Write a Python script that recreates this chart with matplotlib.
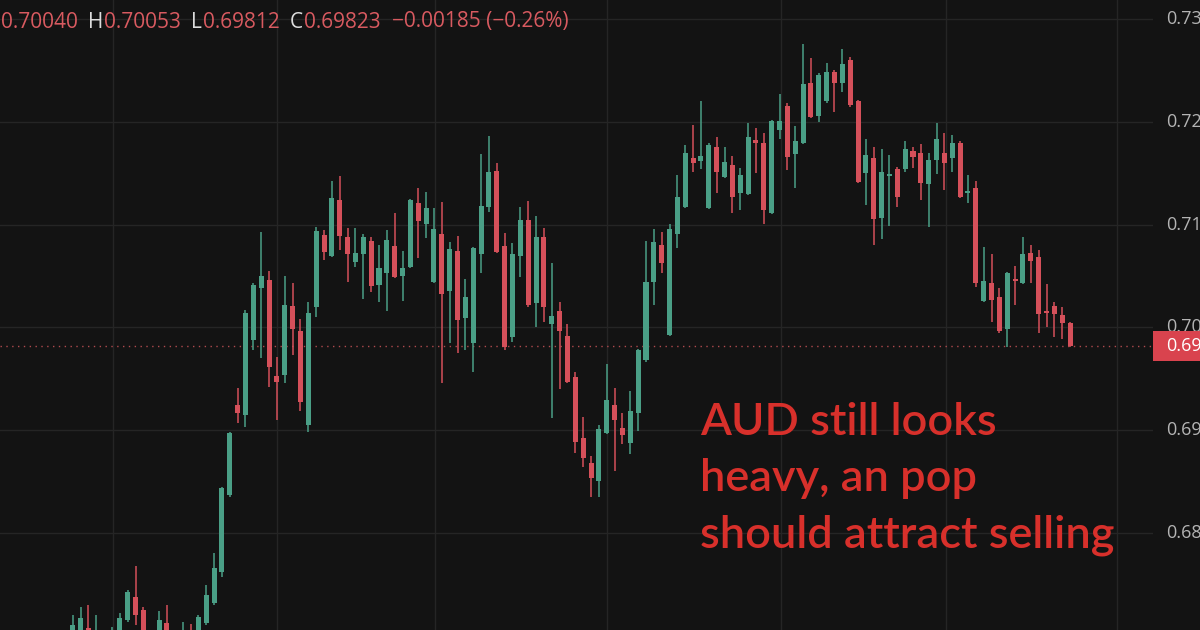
import numpy as np
import matplotlib
matplotlib.use("Agg")
import matplotlib.pyplot as plt
from matplotlib.patches import Rectangle

# ---------------- data ----------------
opens = [0.6696, 0.6701, 0.6707, 0.6691, 0.6696, 0.6691, 0.6701, 0.6715, 0.6738, 0.6725,
         0.6701, 0.6696, 0.6712, 0.6696, 0.6691, 0.6705, 0.6701, 0.6712, 0.6732, 0.6762,
         0.6837, 0.6924, 0.6915, 0.6988, 0.7038, 0.7046, 0.6953, 0.6954, 0.7021, 0.6996,
         0.6905, 0.7020, 0.7090, 0.7069, 0.7124, 0.7088, 0.7064, 0.7071, 0.7084, 0.7041,
         0.7053, 0.7079, 0.7050, 0.7059, 0.7121, 0.7101, 0.7044, 0.7091, 0.7035, 0.7074,
         0.7009, 0.6985, 0.7071, 0.7117, 0.7152, 0.7079, 0.6991, 0.7069, 0.7104, 0.7024,
         0.7088, 0.7003, 0.7016, 0.6992, 0.6952, 0.6892, 0.6868, 0.6850, 0.6897, 0.6924,
         0.6902, 0.6887, 0.6917, 0.6968, 0.7044, 0.7080, 0.6993, 0.7091, 0.7117, 0.7165,
         0.7162, 0.7116, 0.7175, 0.7146, 0.7158, 0.7131, 0.7130, 0.7182, 0.7179, 0.7111,
         0.7192, 0.7215, 0.7169, 0.7179, 0.7238, 0.7206, 0.7220, 0.7248, 0.7238, 0.7260,
         0.7220, 0.7150, 0.7165, 0.7106, 0.7147, 0.7154, 0.7154, 0.7172, 0.7170, 0.7139,
         0.7163, 0.7170, 0.7165, 0.7179, 0.7131, 0.7136, 0.7026, 0.7043, 0.7030, 0.6998,
         0.7047, 0.7043, 0.7072, 0.7068, 0.7016, 0.7021, 0.7012, 0.70040]
highs = [0.6720, 0.6728, 0.6730, 0.6720, 0.6704, 0.6708, 0.6722, 0.6744, 0.6768, 0.6728,
         0.6704, 0.6724, 0.6730, 0.6701, 0.6713, 0.6711, 0.6720, 0.6749, 0.6780, 0.6845,
         0.6898, 0.6941, 0.7017, 0.7043, 0.7093, 0.7055, 0.6971, 0.7050, 0.7043, 0.7008,
         0.7025, 0.7098, 0.7095, 0.7142, 0.7147, 0.7097, 0.7097, 0.7091, 0.7088, 0.7080,
         0.7095, 0.7111, 0.7074, 0.7125, 0.7136, 0.7132, 0.7116, 0.7122, 0.7083, 0.7089,
         0.7047, 0.7078, 0.7169, 0.7186, 0.7160, 0.7092, 0.7082, 0.7117, 0.7123, 0.7108,
         0.7097, 0.7063, 0.7025, 0.7003, 0.6957, 0.6913, 0.6875, 0.6905, 0.6964, 0.6941,
         0.6917, 0.6938, 0.6979, 0.7084, 0.7096, 0.7093, 0.7101, 0.7148, 0.7177, 0.7197,
         0.7220, 0.7179, 0.7185, 0.7175, 0.7167, 0.7155, 0.7199, 0.7194, 0.7189, 0.7202,
         0.7227, 0.7218, 0.7196, 0.7276, 0.7262, 0.7247, 0.7257, 0.7250, 0.7271, 0.7263,
         0.7221, 0.7183, 0.7175, 0.7174, 0.7168, 0.7156, 0.7181, 0.7175, 0.7178, 0.7170,
         0.7199, 0.7189, 0.7187, 0.7181, 0.7148, 0.7142, 0.7078, 0.7071, 0.7038, 0.7054,
         0.7060, 0.7088, 0.7080, 0.7075, 0.7042, 0.7025, 0.7020, 0.70053]
lows = [0.6688, 0.6696, 0.6686, 0.6686, 0.6681, 0.6684, 0.6696, 0.6713, 0.6710, 0.6696,
        0.6686, 0.6691, 0.6691, 0.6684, 0.6686, 0.6686, 0.6696, 0.6710, 0.6730, 0.6757,
        0.6835, 0.6907, 0.6903, 0.6978, 0.6970, 0.6942, 0.6910, 0.6946, 0.6973, 0.6919,
        0.6898, 0.7010, 0.7066, 0.7068, 0.7075, 0.7044, 0.7059, 0.7028, 0.7034, 0.7025,
        0.7016, 0.7048, 0.7026, 0.7058, 0.7067, 0.7087, 0.7043, 0.6946, 0.6985, 0.6975,
        0.6978, 0.6957, 0.7053, 0.7112, 0.7072, 0.6978, 0.6986, 0.7049, 0.7020, 0.7000,
        0.7005, 0.6912, 0.6940, 0.6946, 0.6878, 0.6864, 0.6835, 0.6835, 0.6896, 0.6860,
        0.6886, 0.6877, 0.6899, 0.6966, 0.7022, 0.7053, 0.6992, 0.7077, 0.7116, 0.7151,
        0.7154, 0.7115, 0.7131, 0.7145, 0.7111, 0.7114, 0.7129, 0.7150, 0.7101, 0.7110,
        0.7183, 0.7153, 0.7136, 0.7178, 0.7204, 0.7200, 0.7218, 0.7210, 0.7229, 0.7214,
        0.7140, 0.7119, 0.7080, 0.7086, 0.7099, 0.7117, 0.7151, 0.7155, 0.7124, 0.7098,
        0.7149, 0.7134, 0.7151, 0.7126, 0.7121, 0.7039, 0.7025, 0.7005, 0.6994, 0.6981,
        0.7022, 0.7042, 0.7043, 0.6994, 0.7000, 0.6991, 0.6989, 0.69812]
closes = [0.6710, 0.6717, 0.6691, 0.6705, 0.6688, 0.6704, 0.6717, 0.6742, 0.6720, 0.6704,
          0.6691, 0.6715, 0.6696, 0.6688, 0.6705, 0.6691, 0.6718, 0.6740, 0.6766, 0.6844,
          0.6897, 0.6917, 0.7014, 0.7041, 0.7050, 0.6961, 0.6947, 0.7022, 0.6998, 0.6927,
          0.7014, 0.7094, 0.7073, 0.7126, 0.7089, 0.7071, 0.7072, 0.7088, 0.7040, 0.7058,
          0.7085, 0.7049, 0.7058, 0.7124, 0.7103, 0.7116, 0.7096, 0.7032, 0.7076, 0.7007,
          0.7030, 0.7077, 0.7118, 0.7151, 0.7073, 0.6981, 0.7071, 0.7104, 0.7022, 0.7088,
          0.7020, 0.7011, 0.6996, 0.6947, 0.6888, 0.6873, 0.6853, 0.6901, 0.6929, 0.6910,
          0.6895, 0.6919, 0.6978, 0.7044, 0.7083, 0.7063, 0.7096, 0.7127, 0.7170, 0.7160,
          0.7167, 0.7177, 0.7151, 0.7161, 0.7127, 0.7148, 0.7185, 0.7179, 0.7114, 0.7201,
          0.7201, 0.7166, 0.7181, 0.7237, 0.7205, 0.7246, 0.7248, 0.7238, 0.7256, 0.7216,
          0.7141, 0.7168, 0.7105, 0.7151, 0.7149, 0.7127, 0.7174, 0.7166, 0.7140, 0.7163,
          0.7183, 0.7160, 0.7179, 0.7127, 0.7133, 0.7043, 0.7045, 0.7027, 0.6996, 0.7053,
          0.7045, 0.7071, 0.7065, 0.7013, 0.7014, 0.7013, 0.7004, 0.69823]

price_ticks = [0.68, 0.69, 0.70, 0.71, 0.72, 0.73]
price_tick_labels = ["0.68", "0.69", "0.70", "0.71", "0.72", "0.73"]
last_price = 0.69823
last_price_label = "0.69"
header_values = ["0.70040", "0.70053", "0.69812", "0.69823", "\u22120.00185 (\u22120.26%)"]
header_letters = ["H", "L", "C"]
annotation_lines = ["AUD still looks", "heavy, an pop", "should attract selling"]

# ---------------- style ----------------
BG = "#131313"
GRID = "#252525"
UP = "#4a9f86"
DOWN = "#d5505a"
AXIS_TXT = "#b4b4b4"
NOTE = "#d8302b"

W, H = 1200, 630
fig = plt.figure(figsize=(W / 100, H / 100), dpi=100, facecolor=BG)
plot_right_px = 1153
ax = fig.add_axes([0, 0, plot_right_px / W, 1])
ax.set_facecolor(BG)
for s in ax.spines.values():
    s.set_visible(False)
ax.set_xticks([])
ax.set_yticks([])

ymin, ymax = 0.67055, 0.73185
ax.set_ylim(ymin, ymax)
ax.set_xlim(-9.26, 137.56)

n = len(opens)
x = np.arange(n)
o = np.array(opens); h = np.array(highs); l = np.array(lows); c = np.array(closes)
up = c >= o
colors = np.where(up, UP, DOWN)

# grid
for p in [0.67] + price_ticks:
    ax.axhline(p, color=GRID, lw=1.0, zorder=0)
for gx in [5.1, 26.0, 46.1, 68.0, 90.2, 111.2, 133.0]:
    ax.axvline(gx, color=GRID, lw=1.0, zorder=0)

# candles
ax.vlines(x, l, h, colors=colors, lw=1.1, zorder=2)
body_bottom = np.minimum(o, c)
body_h = np.maximum(np.abs(c - o), 0.00012)
ax.bar(x, body_h, bottom=body_bottom, width=0.64, color=colors, edgecolor=colors,
       linewidth=0, zorder=3)

# last price dotted line
ax.axhline(last_price, color="#b04a4e", lw=1.0, linestyle=(0, (1, 3.2)), zorder=1)

# ---------------- price scale ----------------
def yfrac(p):
    return (p - ymin) / (ymax - ymin)

for p, lab in zip(price_ticks, price_tick_labels):
    fig.text(1166 / W, yfrac(p), lab, color=AXIS_TXT, fontsize=13,
             family="Open Sans", ha="left", va="center")

box_h = 30 / H
fig.patches.append(Rectangle((plot_right_px / W, yfrac(last_price) - box_h / 2), 0.1, box_h,
                             transform=fig.transFigure, facecolor="#d9434e",
                             edgecolor="none", zorder=5))
fig.text(1166 / W, yfrac(last_price), last_price_label, color="white", fontsize=13,
         family="Open Sans", ha="left", va="center", zorder=6)

# ---------------- header ----------------
hy = 1 - 22 / H
HDR_RED = "#d85a60"
HDR_LET = "#dcdcdc"
hfs = 15
renderer = fig.canvas.get_renderer()

def put(xpx, s, col):
    t = fig.text(xpx / W, hy, s, color=col, fontsize=hfs, family="Open Sans",
                 ha="left", va="center")
    return xpx + t.get_window_extent(renderer).width

cur = put(1, header_values[0], HDR_RED)
for let, val in zip(header_letters, header_values[1:4]):
    cur = put(cur + 10, let, HDR_LET)
    cur = put(cur + 1, val, HDR_RED)
put(cur + 11, header_values[4], HDR_RED)

# ---------------- annotation ----------------
target_w = 413
fs = 28
probe = fig.text(0, 0, annotation_lines[2], fontsize=fs, family="Lato", fontweight="semibold")
wpx = probe.get_window_extent(renderer).width
probe.remove()
fs = fs * target_w / wpx
for line, base in zip(annotation_lines, [435, 491, 547]):
    fig.text(700 / W, 1 - base / H, line, color=NOTE, fontsize=fs, family="Lato",
             fontweight="semibold", ha="left", va="baseline")

fig.savefig("out.png", dpi=100, facecolor=BG)
